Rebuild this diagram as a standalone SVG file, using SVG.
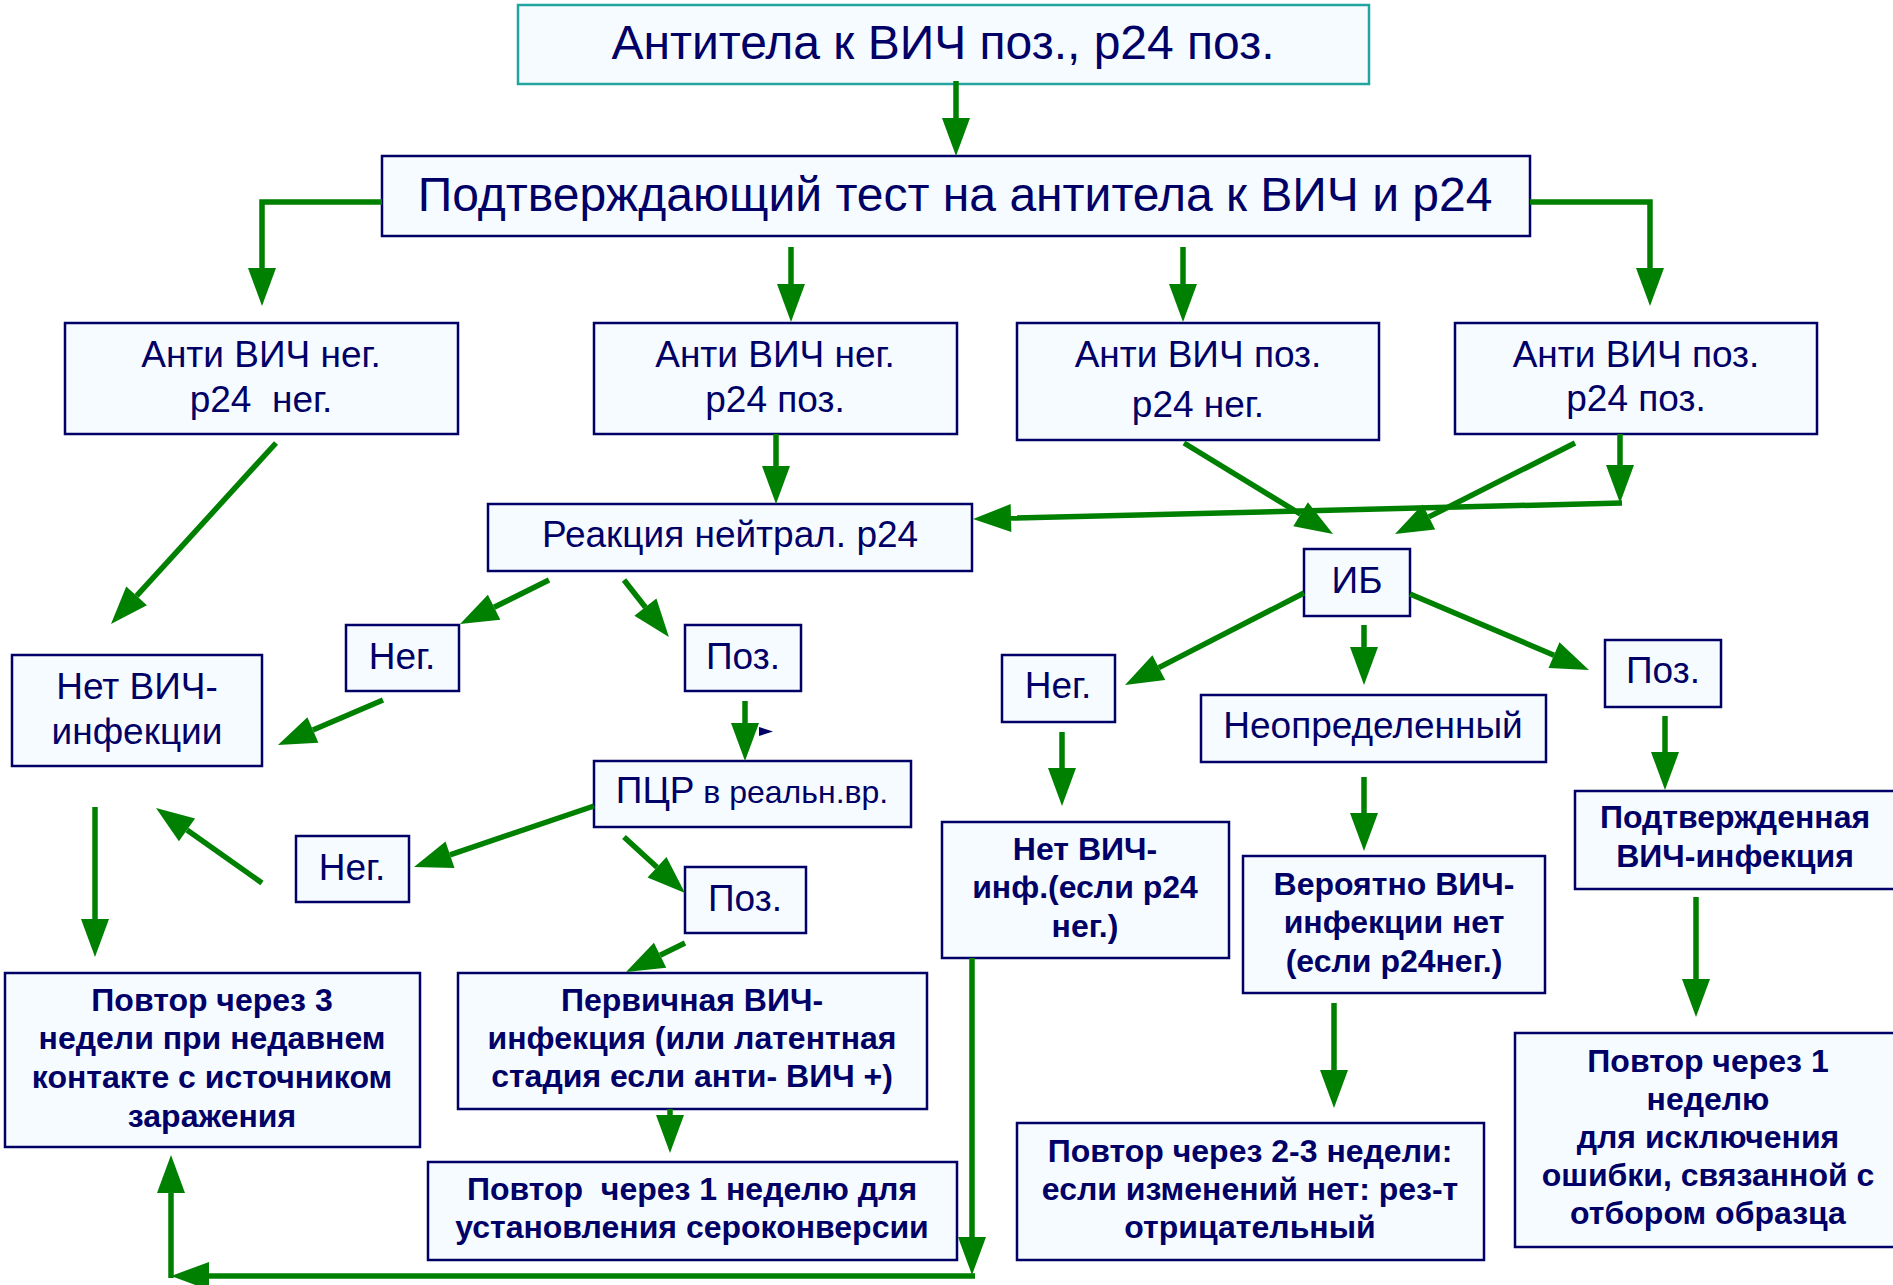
<svg xmlns="http://www.w3.org/2000/svg" width="1893" height="1285" viewBox="0 0 1893 1285">
<style>
.box{fill:#f6fbff;stroke:#000066;stroke-width:2.5}
.top{fill:#f6fbff;stroke:#22a59f;stroke-width:2.5}
.t{font-family:"Liberation Sans",Arial,sans-serif;fill:#000066;text-anchor:middle}
.n{font-size:37px}
.b{font-size:32px;font-weight:bold}
.big{font-size:48px}
.c{fill:none;stroke:#008000;stroke-width:5.5;marker-end:url(#ah)}
</style>
<defs>
<marker id="ah" markerUnits="userSpaceOnUse" markerWidth="38" markerHeight="28" refX="0" refY="14" orient="auto" overflow="visible">
<path d="M0,0 L38,14 L0,28 z" fill="#008000"/>
</marker>
</defs>
<rect width="1893" height="1285" fill="#ffffff"/>

<g id="n-top"><rect class="top" x="518" y="5" width="851" height="79"/><text class="t big" x="943" y="59">Антитела к ВИЧ поз., р24 поз.</text></g>
<g id="n-confirm"><rect class="box" x="382" y="156" width="1148" height="80"/><text class="t big" x="955" y="211">Подтверждающий тест на антитела к ВИЧ и р24</text></g>

<g id="n-a"><rect class="box" x="65" y="323" width="393" height="111"/><text class="t n" x="261" y="367">Анти ВИЧ нег.</text><text class="t n" x="261" y="412" xml:space="preserve">р24  нег.</text></g>
<g id="n-b"><rect class="box" x="594" y="323" width="363" height="111"/><text class="t n" x="775" y="367">Анти ВИЧ нег.</text><text class="t n" x="775" y="412">р24 поз.</text></g>
<g id="n-c"><rect class="box" x="1017" y="323" width="362" height="117"/><text class="t n" x="1198" y="367">Анти ВИЧ поз.</text><text class="t n" x="1198" y="417">р24 нег.</text></g>
<g id="n-d"><rect class="box" x="1455" y="323" width="362" height="111"/><text class="t n" x="1636" y="367">Анти ВИЧ поз.</text><text class="t n" x="1636" y="411">р24 поз.</text></g>

<g id="n-react"><rect class="box" x="488" y="504" width="484" height="67"/><text class="t n" x="730" y="547">Реакция нейтрал. р24</text></g>
<g id="n-nohiv"><rect class="box" x="12" y="655" width="250" height="111"/><text class="t n" x="137" y="699">Нет ВИЧ-</text><text class="t n" x="137" y="744">инфекции</text></g>
<g id="n-neg1"><rect class="box" x="346" y="625" width="113" height="66"/><text class="t n" x="402" y="669">Нег.</text></g>
<g id="n-pos1"><rect class="box" x="685" y="625" width="116" height="66"/><text class="t n" x="743" y="669">Поз.</text></g>
<g id="n-pcr"><rect class="box" x="594" y="761" width="317" height="66"/><text class="t n" x="752" y="803" font-size="38px">ПЦР<tspan font-size="32px"> в реальн.вр.</tspan></text></g>
<g id="n-neg2"><rect class="box" x="296" y="836" width="113" height="66"/><text class="t n" x="352" y="880">Нег.</text></g>
<g id="n-pos2"><rect class="box" x="685" y="867" width="121" height="66"/><text class="t n" x="745" y="911">Поз.</text></g>

<g id="n-rep3"><rect class="box" x="5" y="973" width="415" height="174"/>
<text class="t b" x="212" y="1011">Повтор через 3</text><text class="t b" x="212" y="1049">недели при недавнем</text><text class="t b" x="212" y="1088">контакте с источником</text><text class="t b" x="212" y="1127">заражения</text></g>
<g id="n-primary"><rect class="box" x="458" y="973" width="469" height="136"/>
<text class="t b" x="692" y="1011">Первичная ВИЧ-</text><text class="t b" x="692" y="1049">инфекция (или латентная</text><text class="t b" x="692" y="1087">стадия если анти- ВИЧ +)</text></g>
<g id="n-rep1a"><rect class="box" x="428" y="1162" width="529" height="98"/>
<text class="t b" x="692" y="1200" xml:space="preserve">Повтор  через 1 неделю для</text><text class="t b" x="692" y="1238">установления сероконверсии</text></g>

<g id="n-ib"><rect class="box" x="1304" y="549" width="106" height="67"/><text class="t n" x="1357" y="593">ИБ</text></g>
<g id="n-neg3"><rect class="box" x="1002" y="655" width="113" height="67"/><text class="t n" x="1058" y="698">Нег.</text></g>
<g id="n-undet"><rect class="box" x="1201" y="695" width="345" height="67"/><text class="t n" x="1373" y="738">Неопределенный</text></g>
<g id="n-pos3"><rect class="box" x="1605" y="640" width="116" height="67"/><text class="t n" x="1663" y="683">Поз.</text></g>

<g id="n-noinf"><rect class="box" x="942" y="822" width="287" height="136"/>
<text class="t b" x="1085" y="860">Нет ВИЧ-</text><text class="t b" x="1085" y="898">инф.(если р24</text><text class="t b" x="1085" y="937">нег.)</text></g>
<g id="n-prob"><rect class="box" x="1243" y="856" width="302" height="137"/>
<text class="t b" x="1394" y="895">Вероятно ВИЧ-</text><text class="t b" x="1394" y="933">инфекции нет</text><text class="t b" x="1394" y="972">(если р24нег.)</text></g>
<g id="n-conf"><rect class="box" x="1575" y="791" width="330" height="98"/>
<text class="t b" x="1735" y="828">Подтвержденная</text><text class="t b" x="1735" y="867">ВИЧ-инфекция</text></g>
<g id="n-rep23"><rect class="box" x="1017" y="1123" width="467" height="137"/>
<text class="t b" x="1250" y="1162">Повтор через 2-3 недели:</text><text class="t b" x="1250" y="1200">если изменений нет: рез-т</text><text class="t b" x="1250" y="1238">отрицательный</text></g>
<g id="n-rep1b"><rect class="box" x="1515" y="1033" width="390" height="214"/>
<text class="t b" x="1708" y="1072">Повтор через 1</text><text class="t b" x="1708" y="1110">неделю</text><text class="t b" x="1708" y="1148">для исключения</text><text class="t b" x="1708" y="1186">ошибки, связанной с</text><text class="t b" x="1708" y="1224">отбором образца</text></g>

<g id="connectors">
<path class="c" d="M956,81 V118"/>
<path class="c" d="M382,202 H262 V268"/>
<path class="c" d="M791,247 V284"/>
<path class="c" d="M1183,247 V284"/>
<path class="c" d="M1530,202 H1650 V268"/>
<path class="c" d="M776,434 V466"/>
<path class="c" d="M276,443 L136.6,595.9"/>
<path class="c" d="M549,580 L494.1,607.2"/>
<path class="c" d="M624,580 L645.4,607.2"/>
<path class="c" d="M383,700 L312.9,730"/>
<path class="c" d="M745,701 V723"/>
<path class="c" d="M594,806 L450,854.8"/>
<path class="c" d="M624,837 L657,867.3"/>
<path class="c" d="M262,883 L187,829.9"/>
<path class="c" d="M95,807 V919"/>
<path class="c" d="M685,943 L660.1,955.2"/>
<path class="c" d="M670,1109 V1115"/>
<path class="c" d="M972,958 V1237"/>
<path class="c" d="M975,1276 H209"/>
<path class="c" d="M171,1278 V1193"/>
<path class="c" d="M1184,443 L1300.6,514.2"/>
<path class="c" d="M1575,443 L1428.9,516.9"/>
<path class="c" d="M1620,434 V465"/>
<path class="c" d="M1622,503 L1011,518.1"/>
<path class="c" d="M1304,593 L1158.8,667.6"/>
<path class="c" d="M1364,625 V647"/>
<path class="c" d="M1410,594 L1554,655.2"/>
<path class="c" d="M1062,732 V768"/>
<path class="c" d="M1364,777 V813"/>
<path class="c" d="M1665,716 V752"/>
<path class="c" d="M1696,897 V979"/>
<path class="c" d="M1334,1003 V1070"/>
<path d="M759,727 L773,731.5 L759,736 z" fill="#000066"/>
</g>
</svg>
